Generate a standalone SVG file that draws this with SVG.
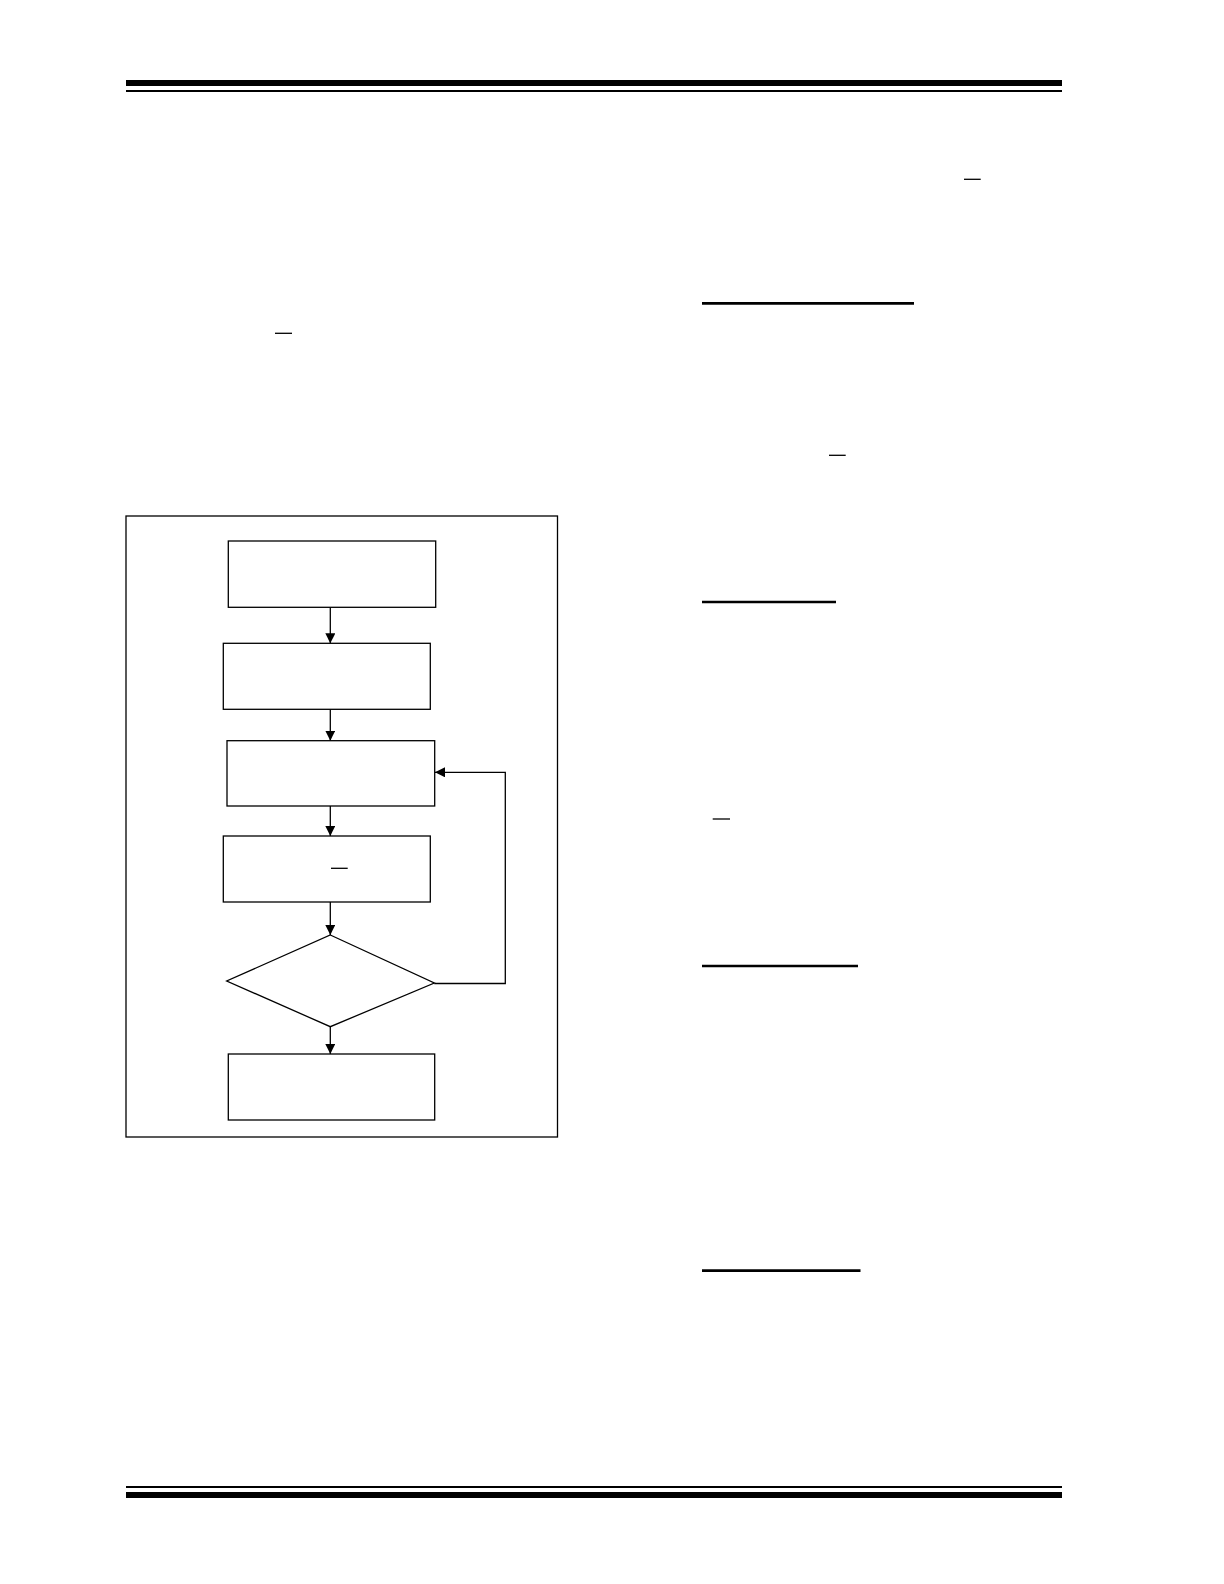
<svg xmlns="http://www.w3.org/2000/svg" width="1224" height="1584" viewBox="0 0 1224 1584">
<style>
.node{fill:#fff;stroke:#000;stroke-width:1.3}
.conn{fill:none;stroke:#000;stroke-width:1.3}
.bar{stroke:#000;stroke-width:1.3}
.ul{stroke:#000;stroke-width:2.7}
</style>
<defs>
<marker id="ah" markerUnits="userSpaceOnUse" markerWidth="10" markerHeight="10" refX="10" refY="5" orient="auto">
<path d="M0,0 L10,5 L0,10 z" fill="#000"/>
</marker>
</defs>
<rect width="1224" height="1584" fill="#fff"/>
<g id="page-rules">
<rect x="126" y="80" width="936" height="6" fill="#000"/>
<rect x="126" y="90" width="936" height="2" fill="#000"/>
<rect x="126" y="1486" width="936" height="2" fill="#000"/>
<rect x="126" y="1492" width="936" height="6" fill="#000"/>
</g>
<g id="text-marks">
<line class="bar" x1="275" y1="333.3" x2="292" y2="333.3"/>
<line class="bar" x1="964" y1="179.3" x2="980.7" y2="179.3"/>
<line class="bar" x1="829" y1="455.3" x2="845.7" y2="455.3"/>
<line class="bar" x1="712.7" y1="819" x2="730" y2="819"/>
<line class="ul" x1="702" y1="303.3" x2="914" y2="303.3"/>
<line class="ul" x1="702" y1="602" x2="836" y2="602"/>
<line class="ul" x1="702" y1="966" x2="858" y2="966"/>
<line class="ul" x1="702" y1="1270.6" x2="860.5" y2="1270.6"/>
</g>
<g id="frame">
<rect x="126" y="516" width="431.5" height="621" fill="none" stroke="#000" stroke-width="1.3"/>
</g>
<g id="connectors">
<line class="conn" x1="330.3" y1="607.3" x2="330.3" y2="643.3" marker-end="url(#ah)"/>
<line class="conn" x1="330.3" y1="709.3" x2="330.3" y2="740.7" marker-end="url(#ah)"/>
<line class="conn" x1="330.3" y1="806" x2="330.3" y2="836" marker-end="url(#ah)"/>
<line class="conn" x1="330.3" y1="902" x2="330.3" y2="935" marker-end="url(#ah)"/>
<line class="conn" x1="330.3" y1="1026.7" x2="330.3" y2="1054" marker-end="url(#ah)"/>
<polyline class="conn" points="434.3,983.5 505.3,983.5 505.3,772.3 435,772.3" marker-end="url(#ah)"/>
</g>
<g id="node1"><rect class="node" x="228.3" y="541" width="207.4" height="66.3"/></g>
<g id="node2"><rect class="node" x="223.3" y="643.3" width="207" height="66"/></g>
<g id="node3"><rect class="node" x="227" y="740.7" width="207.7" height="65.3"/></g>
<g id="node4"><rect class="node" x="223.3" y="836" width="207" height="66"/><line class="bar" x1="331" y1="868.3" x2="347.7" y2="868.3"/></g>
<g id="decision"><polygon class="node" points="330.3,935 434.3,983 330.3,1026.7 226.7,981"/></g>
<g id="node5"><rect class="node" x="228.3" y="1054" width="206.4" height="66"/></g>
</svg>
